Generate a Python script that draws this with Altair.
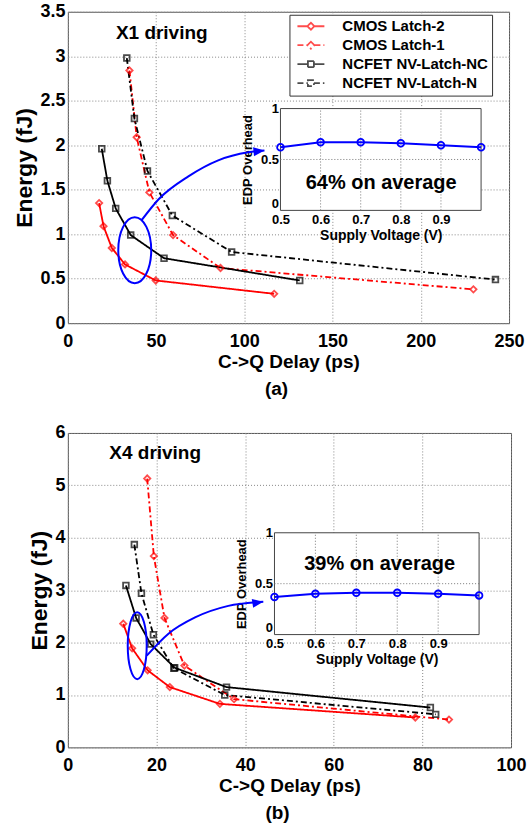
import altair as alt
import pandas as pd

FONT = "Liberation Sans"
BLUE = "#0000ff"

# ---------------- data ----------------
SERIES = ["CMOS Latch-2", "CMOS Latch-1", "NCFET NV-Latch-NC", "NCFET NV-Latch-N"]
SERIES_COLORS = ["#ff0000", "#ff0000", "#000000", "#000000"]
SERIES_DASH = [[1, 0], [6, 3, 2, 3], [1, 0], [6, 3, 2, 3]]

# panel (a): X1 driving  (delay in ps, energy in fJ)
a_latch2_delay = [17.7, 20.2, 24.9, 32.4, 49.8, 116.9]
a_latch2_energy = [1.35, 1.09, 0.845, 0.66, 0.48, 0.33]
a_latch1_delay = [34.9, 39.0, 46.2, 59.6, 86.5, 229.8]
a_latch1_energy = [2.84, 2.09, 1.47, 0.99, 0.62, 0.38]
a_nc_delay = [19.2, 22.4, 27.1, 35.6, 54.5, 131.4]
a_nc_energy = [1.96, 1.60, 1.29, 0.99, 0.73, 0.48]
a_n_delay = [33.4, 37.7, 45.1, 59.2, 92.8, 242.3]
a_n_energy = [2.98, 2.30, 1.71, 1.21, 0.80, 0.49]

# panel (b): X4 driving
b_latch2_delay = [12.5, 14.5, 18.0, 23.0, 34.3, 78.4]
b_latch2_energy = [2.36, 1.89, 1.47, 1.15, 0.83, 0.57]
b_latch1_delay = [17.9, 19.4, 21.8, 26.3, 37.5, 86.0]
b_latch1_energy = [5.13, 3.65, 2.47, 1.56, 0.92, 0.53]
b_nc_delay = [13.1, 15.4, 18.7, 24.1, 35.8, 81.8]
b_nc_energy = [3.09, 2.47, 1.97, 1.52, 1.15, 0.76]
b_n_delay = [15.0, 16.6, 19.3, 23.9, 35.4, 83.0]
b_n_energy = [3.87, 2.94, 2.15, 1.51, 1.00, 0.63]

# insets: EDP overhead vs supply voltage
vdd = [0.5, 0.6, 0.7, 0.8, 0.9, 1.0]
a_edp = [0.62, 0.67, 0.67, 0.66, 0.64, 0.62]
b_edp = [0.37, 0.40, 0.41, 0.41, 0.40, 0.385]

# ticks
a_xticks = [0, 50, 100, 150, 200, 250]
a_yticks = [0, 0.5, 1, 1.5, 2, 2.5, 3, 3.5]
b_xticks = [0, 20, 40, 60, 80, 100]
b_yticks = [0, 1, 2, 3, 4, 5, 6]
inset_xticks = [0.5, 0.6, 0.7, 0.8, 0.9]
inset_yticks = [0, 0.5, 1]
inset_xgrid = [0.6, 0.7, 0.8, 0.9]
inset_ygrid = [0.5]

# annotations
a_label = ["X1 driving"]
a_label_pos = [53.2, 3.26]
b_label = ["X4 driving"]
b_label_pos = [19.7, 5.62]
a_avg = ["64% on average"]
a_avg_pos = [0.751, 0.27]
b_avg = ["39% on average"]
b_avg_pos = [0.757, 0.69]
a_ellipse_center = [37.9, 0.82]
b_ellipse_center = [15.65, 1.94]
a_arrow_x = [41.9, 51.3, 68.3, 85.2, 102.2, 111.4]
a_arrow_y = [1.16, 1.39, 1.65, 1.83, 1.92, 1.94]
b_arrow_x = [17.8, 22.7, 28.7, 36.2, 44.1]
b_arrow_y = [1.75, 2.17, 2.48, 2.70, 2.78]


def ellipse_path(rx, ry):
    k = 0.5523
    return (f"M{rx},0 C{rx},{ry*k} {rx*k},{ry} 0,{ry} "
            f"C{-rx*k},{ry} {-rx},{ry*k} {-rx},0 "
            f"C{-rx},{-ry*k} {-rx*k},{-ry} 0,{-ry} "
            f"C{rx*k},{-ry} {rx},{-ry*k} {rx},0 Z")


ARROW_HEAD = "M0,0 L-11,-4.5 L-11,4.5 Z"
LEG_DIAMOND = "M-13.5,0H-3.5M3.5,0H13.5M0,-3.5L3.5,0L0,3.5L-3.5,0Z"
LEG_SQUARE = "M-13.5,0H-3M3,0H13.5M-3,-3H3V3H-3Z"
LEG_SHAPES = [LEG_DIAMOND, LEG_DIAMOND, LEG_SQUARE, LEG_SQUARE]


def series_df(delays, energies):
    rows = []
    for s, xs, ys in zip(SERIES, delays, energies):
        for i, (x, y) in enumerate(zip(xs, ys)):
            rows.append({"series": s, "x": x, "y": y, "idx": i})
    return pd.DataFrame(rows)


def panel(df, edp, cfg):
    W, H = cfg["W"], cfg["H"]
    xsc = alt.Scale(domain=[0, cfg["xmax"]], nice=False, zero=False)
    ysc = alt.Scale(domain=[0, cfg["ymax"]], nice=False, zero=False)
    xax = alt.Axis(values=cfg["xticks"], title="C->Q Delay (ps)", grid=True, format="~f",
                   labelFlush=False, labelFontSize=18, titleFontSize=19,
                   labelPadding=9, titlePadding=2)
    yax = alt.Axis(values=cfg["yticks"], title="Energy (fJ)", grid=True, format="~f",
                   labelFlush=False, labelFontSize=18, titleFontSize=23,
                   labelPadding=3, titlePadding=3)

    def X(f="x"):
        return alt.X(f"{f}:Q", scale=xsc, axis=xax)

    def Y(f="y"):
        return alt.Y(f"{f}:Q", scale=ysc, axis=yax)

    leg = alt.Legend(title=None, orient="none", legendX=cfg["legx"], legendY=3,
                     fillColor="white", strokeColor="#333", padding=4,
                     labelFont=FONT, labelFontWeight="bold", labelFontSize=15,
                     labelColor="black", symbolSize=4, symbolStrokeWidth=1.8,
                     symbolOffset=10, labelOffset=24, rowPadding=3, labelLimit=400)
    cscale = alt.Scale(domain=SERIES, range=SERIES_COLORS)
    color = alt.Color("series:N", scale=cscale, legend=leg)
    color_nl = alt.Color("series:N", scale=cscale, legend=None)
    dash = alt.StrokeDash("series:N", scale=alt.Scale(domain=SERIES, range=SERIES_DASH), legend=leg)
    shape = alt.Shape("series:N", scale=alt.Scale(domain=SERIES, range=LEG_SHAPES), legend=leg)

    base = alt.Chart(df)
    lines = base.mark_line(strokeWidth=1.8).encode(
        x=X(), y=Y(), color=color, strokeDash=dash, order="idx:Q")
    dia = base.transform_filter(
        alt.FieldOneOfPredicate(field="series", oneOf=SERIES[:2])
    ).mark_point(shape="diamond", filled=False, size=40, strokeWidth=1.8).encode(
        x=X(), y=Y(), color=color_nl)
    sq = base.transform_filter(
        alt.FieldOneOfPredicate(field="series", oneOf=SERIES[2:])
    ).mark_point(shape="square", filled=False, size=32, strokeWidth=1.8).encode(
        x=X(), y=Y(), color=color_nl)
    legend_layer = base.transform_filter("datum.x < -1000").mark_point(
        filled=False, strokeWidth=1.8).encode(x=X(), y=Y(), color=color, shape=shape)

    ell_df = pd.DataFrame({"x": [cfg["ell"][0]], "y": [cfg["ell"][1]]})
    ellipse = alt.Chart(ell_df).mark_point(
        shape=ellipse_path(cfg["ell_rx"], cfg["ell_ry"]), size=4, filled=False,
        color=BLUE, strokeWidth=2, opacity=1).encode(x=X(), y=Y())

    arr_df = pd.DataFrame({"x": cfg["arrow_x"], "y": cfg["arrow_y"],
                           "i": list(range(len(cfg["arrow_x"])))})
    arrow = alt.Chart(arr_df).mark_line(color=BLUE, strokeWidth=2, interpolate="monotone").encode(
        x=X(), y=Y(), order="i:Q")
    head_df = pd.DataFrame({"x": [cfg["arrow_x"][-1]], "y": [cfg["arrow_y"][-1]]})
    head = alt.Chart(head_df).mark_point(
        shape=ARROW_HEAD, size=4, filled=True, color=BLUE, opacity=1,
        angle=cfg["arrow_angle"]).encode(x=X(), y=Y())

    lab_df = pd.DataFrame({"x": [cfg["label_pos"][0]], "y": [cfg["label_pos"][1]],
                           "t": cfg["label"]})
    label = alt.Chart(lab_df).mark_text(font=FONT, fontWeight="bold", fontSize=19,
                                        color="black").encode(x=X(), y=Y(), text="t:N")

    main = alt.layer(lines, dia, sq, legend_layer, ellipse, arrow, head, label)

    # ---- inset ----
    ixsc = alt.Scale(domain=[0.5, 1.0], range=[cfg["ix0"], cfg["ix1"]], nice=False, zero=False)
    iysc = alt.Scale(domain=[0, 1], range=[cfg["iy0"], cfg["iy1"]], nice=False, zero=False)
    ixax = alt.Axis(orient="bottom", offset=-(H - cfg["iy0"]), values=inset_xticks,
                    format=".1f", grid=False, title="Supply Voltage (V)",
                    labelFontSize=13, titleFontSize=14, labelPadding=3, titlePadding=2,
                    labelFlush=False)
    iyax = alt.Axis(orient="left", offset=-cfg["ix0"], values=inset_yticks, format="~f",
                    grid=False, title="EDP Overhead", labelFontSize=13, titleFontSize=13,
                    labelPadding=2, titlePadding=6, labelFlush=False,
                    labelOffset={"condition": {"test": "datum.value === 0", "value": -7},
                                 "value": 0})

    def IX(f):
        return alt.X(f"{f}:Q", scale=ixsc, axis=ixax)

    def IY(f):
        return alt.Y(f"{f}:Q", scale=iysc, axis=iyax)

    box = alt.Chart(pd.DataFrame({"v0": [0.5], "v1": [1.0], "e0": [0.0], "e1": [1.0]})).mark_rect(
        fill="white", stroke="#444", strokeWidth=1).encode(
        x=IX("v0"), x2="v1", y=IY("e0"), y2="e1")
    vgrid = alt.Chart(pd.DataFrame({"v": inset_xgrid, "e0": 0.0, "e1": 1.0})).mark_rule(
        color="#777", strokeDash=[1, 2], strokeWidth=1).encode(x=IX("v"), y=IY("e0"), y2="e1")
    hgrid = alt.Chart(pd.DataFrame({"e": inset_ygrid, "v0": 0.5, "v1": 1.0})).mark_rule(
        color="#777", strokeDash=[1, 2], strokeWidth=1).encode(y=IY("e"), x=IX("v0"), x2="v1")
    edp_df = pd.DataFrame({"v": vdd, "e": edp})
    iline = alt.Chart(edp_df).mark_line(
        color=BLUE, strokeWidth=2,
        point=alt.OverlayMarkDef(filled=False, size=45, strokeWidth=1.8, color=BLUE)
    ).encode(x=IX("v"), y=IY("e"))
    avg_df = pd.DataFrame({"v": [cfg["avg_pos"][0]], "e": [cfg["avg_pos"][1]], "t": cfg["avg"]})
    avg = alt.Chart(avg_df).mark_text(font=FONT, fontWeight="bold", fontSize=20,
                                      color="black").encode(x=IX("v"), y=IY("e"), text="t:N")
    inset = alt.layer(box, vgrid, hgrid, iline, avg)

    return alt.layer(main, inset).resolve_scale(x="independent", y="independent").properties(
        width=W, height=H,
        title=alt.TitleParams(cfg["title"], orient="bottom", anchor="middle", frame="group",
                              dx=-12, offset=9, fontSize=19, font=FONT, fontWeight="bold",
                              color="black"))


df_a = series_df([a_latch2_delay, a_latch1_delay, a_nc_delay, a_n_delay],
                 [a_latch2_energy, a_latch1_energy, a_nc_energy, a_n_energy])
df_b = series_df([b_latch2_delay, b_latch1_delay, b_nc_delay, b_n_delay],
                 [b_latch2_energy, b_latch1_energy, b_nc_energy, b_n_energy])

cfg_a = dict(W=442, H=312, xmax=250, ymax=3.5, xticks=a_xticks, yticks=a_yticks, legx=222,
             ell=a_ellipse_center, ell_rx=16.5, ell_ry=33, arrow_x=a_arrow_x, arrow_y=a_arrow_y,
             arrow_angle=354, label=a_label, label_pos=a_label_pos, ix0=213, ix1=414,
             iy0=199, iy1=97, avg=a_avg, avg_pos=a_avg_pos, title="(a)")
cfg_b = dict(W=444, H=315, xmax=100, ymax=6, xticks=b_xticks, yticks=b_yticks, legx=221,
             ell=b_ellipse_center, ell_rx=9.5, ell_ry=33.5, arrow_x=b_arrow_x, arrow_y=b_arrow_y,
             arrow_angle=351, label=b_label, label_pos=b_label_pos, ix0=207, ix1=412,
             iy0=202, iy1=100, avg=b_avg, avg_pos=b_avg_pos, title="(b)")

chart = alt.vconcat(panel(df_a, a_edp, cfg_a), panel(df_b, b_edp, cfg_b), spacing=23).properties(
    padding={"left": 13, "top": 1, "right": 0, "bottom": 0}
).configure_view(stroke="#555", strokeWidth=1).configure_axis(
    labelFont=FONT, labelFontWeight="bold", labelColor="black",
    titleFont=FONT, titleFontWeight="bold", titleColor="black",
    ticks=False, domain=False, gridColor="#888", gridDash=[1, 2], gridWidth=1
)

chart.save("out.html", embed_options={"renderer": "svg", "actions": False})
